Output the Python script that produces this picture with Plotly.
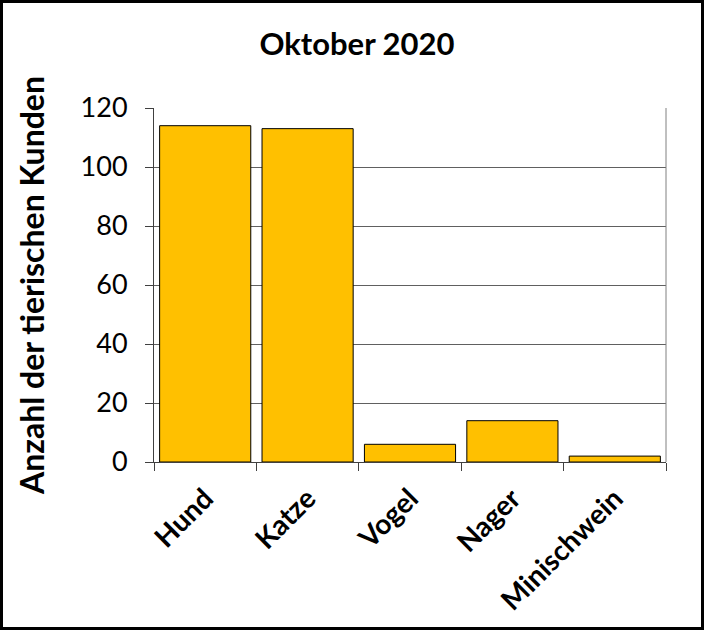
import plotly.graph_objects as go

# Tierische Kunden im Oktober 2020
tiere = ["Hund", "Katze", "Vogel", "Nager", "Minischwein"]
anzahl = [114, 113, 6, 14, 2]

W, H = 704, 630
L, R, T, B = 154, 38, 108, 168
pw, ph = W - L - R, H - T - B
schrift = "Lato, Calibri, sans-serif"

fig = go.Figure(go.Bar(
    x=tiere,
    y=anzahl,
    marker_color="#FFC000",
    marker_line_color="#000000",
    marker_line_width=1,
))

fig.update_layout(
    width=W, height=H,
    margin=dict(l=L, r=R, t=T, b=B, pad=0),
    paper_bgcolor="white",
    plot_bgcolor="white",
    bargap=0.11,
    showlegend=False,
    font=dict(family=schrift, color="black"),
    title=dict(text="<b>Oktober 2020</b>", x=357 / W, xanchor="center",
               y=1 - 44 / H, yanchor="middle", font=dict(size=31)),
)

fig.update_xaxes(
    type="category",
    tickson="boundaries",
    ticks="outside", ticklen=8, tickcolor="#404040", tickwidth=1,
    showline=True, linecolor="#404040", linewidth=1,
    tickangle=-45,
    ticklabelstandoff=8,
    tickfont=dict(size=28, family=schrift, weight="bold"),
    showgrid=False,
)

fig.update_yaxes(
    range=[0, 120], dtick=20,
    ticks="outside", ticklen=8, tickcolor="#404040", tickwidth=1,
    showline=True, linecolor="#404040", linewidth=1,
    showgrid=True, gridcolor="#606060", gridwidth=1,
    zeroline=False,
    ticklabelstandoff=12,
    tickfont=dict(size=27),
    title=dict(text="<b>Anzahl der tierischen Kunden</b>", font=dict(size=32), standoff=26),
)

# rechte Rahmenlinie des Diagrammbereichs
fig.add_shape(type="line", xref="paper", yref="paper", x0=1, x1=1, y0=0, y1=1,
              line=dict(color="#808080", width=1))

# Rahmen um das ganze Bild
fig.add_shape(type="rect", xref="paper", yref="paper",
              x0=(1.5 - L) / pw, x1=(W - 1.5 - L) / pw,
              y0=(T + ph - (H - 1.5)) / ph, y1=(T + ph - 1.5) / ph,
              line=dict(color="black", width=3), layer="above")

fig.write_html("out.html", config={"displayModeBar": False},
               post_script="document.body.style.margin='0';")
